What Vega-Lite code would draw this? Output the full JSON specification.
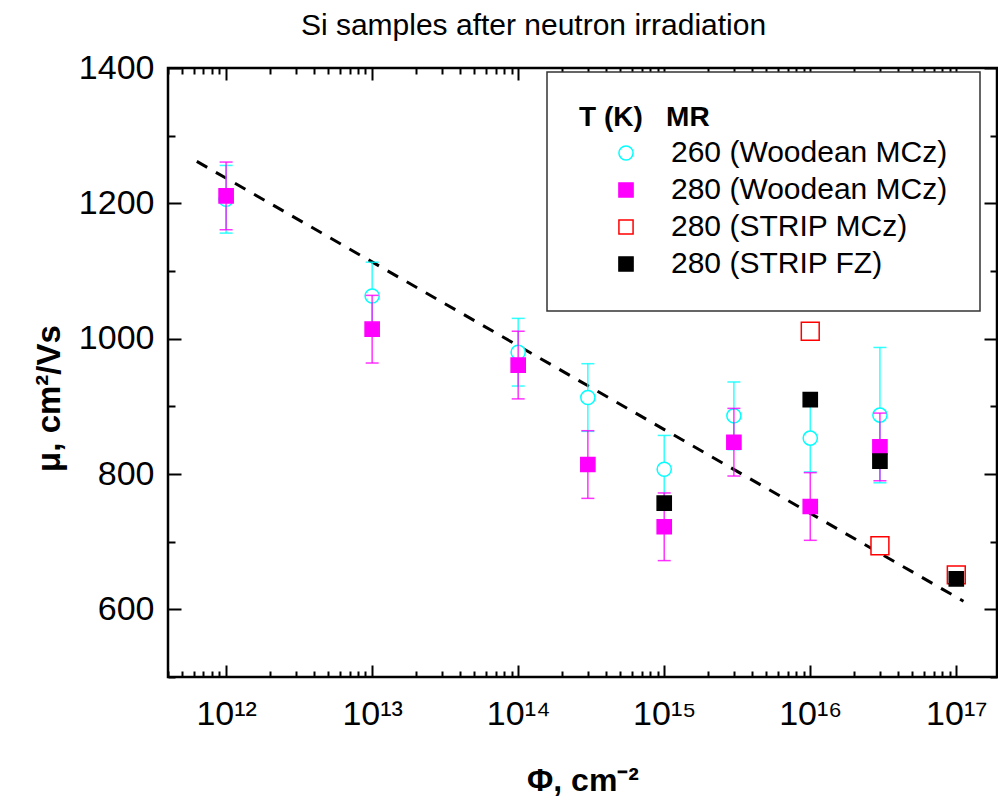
{
  "$schema": "https://vega.github.io/schema/vega-lite/v6.json",
  "width": 829,
  "height": 609,
  "autosize": {"type": "none"},
  "padding": {"left": 168, "top": 68, "right": 1, "bottom": 120},
  "title": {"text": "Si samples after neutron irradiation", "fontSize": 30, "font": "Liberation Sans", "fontWeight": "normal", "color": "black", "anchor": "middle", "dx": -49, "offset": 10},
  "config": {
    "view": {"stroke": "black", "strokeWidth": 2.5},
    "font": "Liberation Sans",
    "axis": {"domain": false, "grid": false, "tickColor": "black", "tickWidth": 2, "labelColor": "black", "titleColor": "black", "labelFont": "Liberation Sans", "titleFont": "Liberation Sans", "labelOverlap": false, "labelFlush": false, "labelBound": false},
    "legend": {"orient": "none", "strokeWidth": 1.5}
  },
  "datasets": {
    "pts": [
      {"series": "260 (Woodean MCz)", "phi": 1e12, "mu": 1206, "lo": 1156, "hi": 1256},
      {"series": "260 (Woodean MCz)", "phi": 1e13, "mu": 1063, "lo": 1013, "hi": 1113},
      {"series": "260 (Woodean MCz)", "phi": 1e14, "mu": 980, "lo": 930, "hi": 1030},
      {"series": "260 (Woodean MCz)", "phi": 3e14, "mu": 913, "lo": 863, "hi": 963},
      {"series": "260 (Woodean MCz)", "phi": 1e15, "mu": 807, "lo": 757, "hi": 857},
      {"series": "260 (Woodean MCz)", "phi": 3e15, "mu": 886, "lo": 836, "hi": 936},
      {"series": "260 (Woodean MCz)", "phi": 1e16, "mu": 853, "lo": 803, "hi": 903},
      {"series": "260 (Woodean MCz)", "phi": 3e16, "mu": 887, "lo": 787, "hi": 987},
      {"series": "280 (Woodean MCz)", "phi": 1e12, "mu": 1211, "lo": 1161, "hi": 1261},
      {"series": "280 (Woodean MCz)", "phi": 1e13, "mu": 1014, "lo": 964, "hi": 1064},
      {"series": "280 (Woodean MCz)", "phi": 1e14, "mu": 961, "lo": 911, "hi": 1011},
      {"series": "280 (Woodean MCz)", "phi": 3e14, "mu": 814, "lo": 764, "hi": 864},
      {"series": "280 (Woodean MCz)", "phi": 1e15, "mu": 722, "lo": 672, "hi": 772},
      {"series": "280 (Woodean MCz)", "phi": 3e15, "mu": 847, "lo": 797, "hi": 897},
      {"series": "280 (Woodean MCz)", "phi": 1e16, "mu": 752, "lo": 702, "hi": 802},
      {"series": "280 (Woodean MCz)", "phi": 3e16, "mu": 840, "lo": 790, "hi": 890},
      {"series": "280 (STRIP MCz)", "phi": 1e16, "mu": 1011},
      {"series": "280 (STRIP MCz)", "phi": 3e16, "mu": 694},
      {"series": "280 (STRIP MCz)", "phi": 1e17, "mu": 651},
      {"series": "280 (STRIP FZ)", "phi": 1e15, "mu": 757},
      {"series": "280 (STRIP FZ)", "phi": 1e16, "mu": 910},
      {"series": "280 (STRIP FZ)", "phi": 3e16, "mu": 819},
      {"series": "280 (STRIP FZ)", "phi": 1e17, "mu": 645}
    ],
    "fit": [
      {"phi": 6.3e11, "mu": 1262},
      {"phi": 1.12e17, "mu": 612}
    ]
  },
  "layer": [
    {
      "data": {"name": "fit"},
      "mark": {"type": "line", "color": "black", "strokeWidth": 3, "strokeDash": [12, 10]},
      "encoding": {
        "x": {"field": "phi", "type": "quantitative", "scale": {"type": "log", "domain": [4e11, 1.9e17], "nice": false},
          "axis": {"orient": "top", "labels": false, "title": null, "values": [4e11,5e11,6e11,7e11,8e11,9e11,1e12,2e12,3e12,4e12,5e12,6e12,7e12,8e12,9e12,1e13,2e13,3e13,4e13,5e13,6e13,7e13,8e13,9e13,1e14,2e14,3e14,4e14,5e14,6e14,7e14,8e14,9e14,1e15,2e15,3e15,4e15,5e15,6e15,7e15,8e15,9e15,1e16,2e16,3e16,4e16,5e16,6e16,7e16,8e16,9e16,1e17],
            "tickSize": {"condition": {"test": "abs(log(datum.value)/LN10 - round(log(datum.value)/LN10)) < 0.01", "value": -12}, "value": -6}}},
        "y": {"field": "mu", "type": "quantitative", "scale": {"domain": [500, 1400], "nice": false, "zero": false},
          "axis": {"orient": "right", "labels": false, "title": null, "values": [500,600,700,800,900,1000,1100,1200,1300,1400],
            "tickSize": {"condition": {"test": "datum.value % 200 == 0", "value": -13}, "value": -7}}}
      }
    },
    {
      "data": {"name": "pts"},
      "transform": [{"filter": "datum.series == '260 (Woodean MCz)'"}],
      "mark": {"type": "rule", "strokeWidth": 1.5, "opacity": 0.8, "color": "#00ffff"},
      "encoding": {
        "x": {"field": "phi", "type": "quantitative", "scale": {"type": "log", "domain": [4e11, 1.9e17], "nice": false}, "axis": null},
        "y": {"field": "lo", "type": "quantitative", "scale": {"domain": [500, 1400], "nice": false, "zero": false}, "axis": null},
        "y2": {"field": "hi"}
      }
    },
    {
      "data": {"name": "pts"},
      "transform": [{"filter": "datum.series == '260 (Woodean MCz)'"}, {"fold": ["lo", "hi"], "as": ["end", "ey"]}],
      "mark": {"type": "tick", "orient": "horizontal", "size": 13, "thickness": 1.5, "opacity": 0.8, "color": "#00ffff"},
      "encoding": {
        "x": {"field": "phi", "type": "quantitative", "scale": {"type": "log", "domain": [4e11, 1.9e17], "nice": false}, "axis": null},
        "y": {"field": "ey", "type": "quantitative", "scale": {"domain": [500, 1400], "nice": false, "zero": false}, "axis": null}
      }
    },
    {
      "data": {"name": "pts"},
      "transform": [{"filter": "datum.series == '260 (Woodean MCz)'"}],
      "mark": {"type": "point", "strokeWidth": 1.5, "opacity": 1, "size": 200},
      "encoding": {
        "x": {"field": "phi", "type": "quantitative", "scale": {"type": "log", "domain": [4e11, 1.9e17], "nice": false}, "axis": null},
        "y": {"field": "mu", "type": "quantitative", "scale": {"domain": [500, 1400], "nice": false, "zero": false}, "axis": null},
        "shape": {"field": "series", "type": "nominal", "scale": {"domain": ["260 (Woodean MCz)", "280 (Woodean MCz)", "280 (STRIP MCz)", "280 (STRIP FZ)"], "range": ["circle", "square", "square", "square"]},
          "legend": {"title": "T (K)\u00a0\u00a0\u00a0MR", "orient": "none", "legendX": 379, "legendY": 4, "padding": 32, "strokeColor": "#333333", "fillColor": "white", "titleFont": "Liberation Sans", "titleFontSize": 28, "titleFontWeight": "bold", "titleColor": "black", "titleLimit": 0, "labelFont": "Liberation Sans", "labelFontSize": 30, "labelColor": "black", "labelLimit": 0, "symbolSize": 200, "symbolStrokeWidth": 1.5, "symbolOffset": 32, "labelOffset": 30, "rowPadding": 7, "titlePadding": 6}},
        "stroke": {"field": "series", "type": "nominal", "scale": {"domain": ["260 (Woodean MCz)", "280 (Woodean MCz)", "280 (STRIP MCz)", "280 (STRIP FZ)"], "range": ["#00ffff", "#ff00ff", "#ff0000", "#000000"]},
          "legend": {"title": "T (K)\u00a0\u00a0\u00a0MR", "orient": "none", "legendX": 379, "legendY": 4, "padding": 32, "strokeColor": "#333333", "fillColor": "white", "titleFont": "Liberation Sans", "titleFontSize": 28, "titleFontWeight": "bold", "titleColor": "black", "titleLimit": 0, "labelFont": "Liberation Sans", "labelFontSize": 30, "labelColor": "black", "labelLimit": 0, "symbolSize": 200, "symbolStrokeWidth": 1.5, "symbolOffset": 32, "labelOffset": 30, "rowPadding": 7, "titlePadding": 6}},
        "fill": {"field": "series", "type": "nominal", "scale": {"domain": ["260 (Woodean MCz)", "280 (Woodean MCz)", "280 (STRIP MCz)", "280 (STRIP FZ)"], "range": ["#ffffff", "#ff00ff", "#ffffff", "#000000"]},
          "legend": {"title": "T (K)\u00a0\u00a0\u00a0MR", "orient": "none", "legendX": 379, "legendY": 4, "padding": 32, "strokeColor": "#333333", "fillColor": "white", "titleFont": "Liberation Sans", "titleFontSize": 28, "titleFontWeight": "bold", "titleColor": "black", "titleLimit": 0, "labelFont": "Liberation Sans", "labelFontSize": 30, "labelColor": "black", "labelLimit": 0, "symbolSize": 200, "symbolStrokeWidth": 1.5, "symbolOffset": 32, "labelOffset": 30, "rowPadding": 7, "titlePadding": 6}}
      }
    },
    {
      "data": {"name": "pts"},
      "transform": [{"filter": "datum.series == '280 (Woodean MCz)'"}],
      "mark": {"type": "rule", "strokeWidth": 1.5, "opacity": 0.8, "color": "#ff00ff"},
      "encoding": {
        "x": {"field": "phi", "type": "quantitative", "scale": {"type": "log", "domain": [4e11, 1.9e17], "nice": false}, "axis": null},
        "y": {"field": "lo", "type": "quantitative", "scale": {"domain": [500, 1400], "nice": false, "zero": false}, "axis": null},
        "y2": {"field": "hi"}
      }
    },
    {
      "data": {"name": "pts"},
      "transform": [{"filter": "datum.series == '280 (Woodean MCz)'"}, {"fold": ["lo", "hi"], "as": ["end", "ey"]}],
      "mark": {"type": "tick", "orient": "horizontal", "size": 13, "thickness": 1.5, "opacity": 0.8, "color": "#ff00ff"},
      "encoding": {
        "x": {"field": "phi", "type": "quantitative", "scale": {"type": "log", "domain": [4e11, 1.9e17], "nice": false}, "axis": null},
        "y": {"field": "ey", "type": "quantitative", "scale": {"domain": [500, 1400], "nice": false, "zero": false}, "axis": null}
      }
    },
    {
      "data": {"name": "pts"},
      "transform": [{"filter": "datum.series != '260 (Woodean MCz)'"}],
      "mark": {"type": "point", "strokeWidth": 1.5, "opacity": 1},
      "encoding": {
        "x": {"field": "phi", "type": "quantitative", "scale": {"type": "log", "domain": [4e11, 1.9e17], "nice": false},
          "axis": {"orient": "bottom", "values": [4e11,5e11,6e11,7e11,8e11,9e11,1e12,2e12,3e12,4e12,5e12,6e12,7e12,8e12,9e12,1e13,2e13,3e13,4e13,5e13,6e13,7e13,8e13,9e13,1e14,2e14,3e14,4e14,5e14,6e14,7e14,8e14,9e14,1e15,2e15,3e15,4e15,5e15,6e15,7e15,8e15,9e15,1e16,2e16,3e16,4e16,5e16,6e16,7e16,8e16,9e16,1e17],
            "tickSize": {"condition": {"test": "abs(log(datum.value)/LN10 - round(log(datum.value)/LN10)) < 0.01", "value": -12}, "value": -6},
            "labelExpr": "abs(log(datum.value)/LN10 - round(log(datum.value)/LN10)) < 0.01 ? '10' + ['¹²','¹³','¹⁴','¹⁵','¹⁶','¹⁷'][round(log(datum.value)/LN10) - 12] : ''",
            "labelFontSize": 34, "labelPadding": 32,
            "title": "Φ, cm⁻²", "titleFontSize": 32, "titleFontWeight": "bold", "titlePadding": 28}},
        "y": {"field": "mu", "type": "quantitative", "scale": {"domain": [500, 1400], "nice": false, "zero": false},
          "axis": {"orient": "left", "values": [500,600,700,800,900,1000,1100,1200,1300,1400],
            "tickSize": {"condition": {"test": "datum.value % 200 == 0", "value": -13}, "value": -7},
            "labelExpr": "datum.value % 200 == 0 && datum.value > 500 ? '' + datum.value : ''",
            "labelFontSize": 34, "labelPadding": 27,
            "title": "μ, cm²/Vs", "titleFontSize": 33, "titleFontWeight": "bold", "titlePadding": 12, "titleY": 330}},
        "shape": {"field": "series", "type": "nominal", "scale": {"domain": ["260 (Woodean MCz)", "280 (Woodean MCz)", "280 (STRIP MCz)", "280 (STRIP FZ)"], "range": ["circle", "square", "square", "square"]},
          "legend": {"title": "T (K)\u00a0\u00a0\u00a0MR", "orient": "none", "legendX": 379, "legendY": 4, "padding": 32, "strokeColor": "#333333", "fillColor": "white", "titleFont": "Liberation Sans", "titleFontSize": 28, "titleFontWeight": "bold", "titleColor": "black", "titleLimit": 0, "labelFont": "Liberation Sans", "labelFontSize": 30, "labelColor": "black", "labelLimit": 0, "symbolSize": 200, "symbolStrokeWidth": 1.5, "symbolOffset": 32, "labelOffset": 30, "rowPadding": 7, "titlePadding": 6}},
        "stroke": {"field": "series", "type": "nominal", "scale": {"domain": ["260 (Woodean MCz)", "280 (Woodean MCz)", "280 (STRIP MCz)", "280 (STRIP FZ)"], "range": ["#00ffff", "#ff00ff", "#ff0000", "#000000"]},
          "legend": {"title": "T (K)\u00a0\u00a0\u00a0MR", "orient": "none", "legendX": 379, "legendY": 4, "padding": 32, "strokeColor": "#333333", "fillColor": "white", "titleFont": "Liberation Sans", "titleFontSize": 28, "titleFontWeight": "bold", "titleColor": "black", "titleLimit": 0, "labelFont": "Liberation Sans", "labelFontSize": 30, "labelColor": "black", "labelLimit": 0, "symbolSize": 200, "symbolStrokeWidth": 1.5, "symbolOffset": 32, "labelOffset": 30, "rowPadding": 7, "titlePadding": 6}},
        "fill": {"field": "series", "type": "nominal", "scale": {"domain": ["260 (Woodean MCz)", "280 (Woodean MCz)", "280 (STRIP MCz)", "280 (STRIP FZ)"], "range": ["#ffffff", "#ff00ff", "#ffffff", "#000000"]},
          "legend": {"title": "T (K)\u00a0\u00a0\u00a0MR", "orient": "none", "legendX": 379, "legendY": 4, "padding": 32, "strokeColor": "#333333", "fillColor": "white", "titleFont": "Liberation Sans", "titleFontSize": 28, "titleFontWeight": "bold", "titleColor": "black", "titleLimit": 0, "labelFont": "Liberation Sans", "labelFontSize": 30, "labelColor": "black", "labelLimit": 0, "symbolSize": 200, "symbolStrokeWidth": 1.5, "symbolOffset": 32, "labelOffset": 30, "rowPadding": 7, "titlePadding": 6}},
        "size": {"condition": {"test": "datum.series == '280 (STRIP MCz)'", "value": 320}, "value": 200}
      }
    }
  ],
  "resolve": {"axis": {"x": "independent", "y": "independent"}}
}
